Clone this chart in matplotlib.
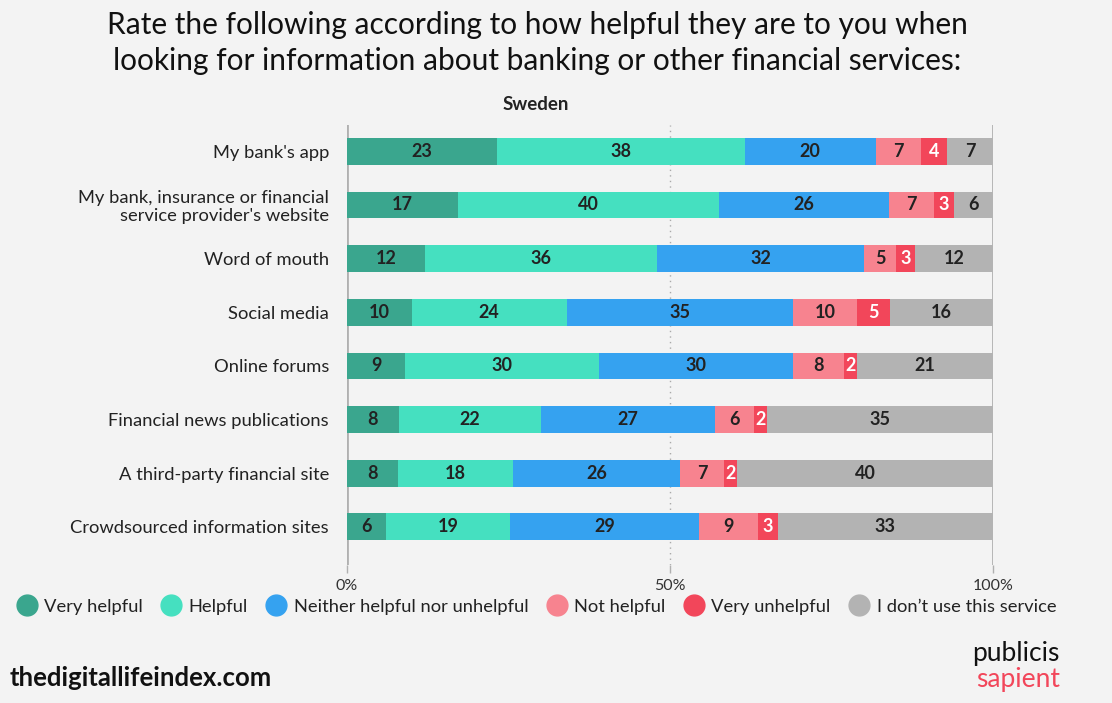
import matplotlib.pyplot as plt
import numpy as np

plt.rcParams['font.family'] = ['Lato', 'DejaVu Sans']

# data (Sweden)
sources = ["My bank's app",
           "My bank, insurance or financial\nservice provider's website",
           "Word of mouth",
           "Social media",
           "Online forums",
           "Financial news publications",
           "A third-party financial site",
           "Crowdsourced information sites"]
answers = ["Very helpful", "Helpful", "Neither helpful nor unhelpful",
           "Not helpful", "Very unhelpful", "I don\u2019t use this service"]
very_helpful = [23, 17, 12, 10, 9, 8, 8, 6]
helpful = [38, 40, 36, 24, 30, 22, 18, 19]
neither = [20, 26, 32, 35, 30, 27, 26, 29]
not_helpful = [7, 7, 5, 10, 8, 6, 7, 9]
very_unhelpful = [4, 3, 3, 5, 2, 2, 2, 3]
dont_use = [7, 6, 12, 16, 21, 35, 40, 33]

colors = ['#3aa68e', '#45e0c0', '#35a2f0', '#f7838f', '#f2465a', '#b3b3b3']
txtcol = ['#222222', '#222222', '#222222', '#222222', 'white', '#222222']
bg = '#f3f3f3'

vals = np.array([very_helpful, helpful, neither, not_helpful, very_unhelpful, dont_use], dtype=float)
pct = vals / vals.sum(axis=0) * 100  # bars fill to 100%

fig = plt.figure(figsize=(11.12, 7.03), dpi=100, facecolor=bg)
ax = fig.add_axes([347/1112, 1-565/703, (993-347)/1112, (565-125)/703])
ax.set_facecolor(bg)

y = np.arange(len(sources))
left = np.zeros(len(sources))
for i in range(len(answers)):
    ax.barh(y, pct[i], left=left, height=0.5, color=colors[i], label=answers[i], zorder=2)
    for j in range(len(sources)):
        ax.text(left[j] + pct[i][j]/2, y[j], str(int(vals[i][j])), ha='center', va='center',
                fontsize=13, fontweight='bold', color=txtcol[i], zorder=3)
    left += pct[i]

ax.set_xlim(0, 100)
ax.set_ylim(7.71, -0.49)
for s in ax.spines.values():
    s.set_visible(False)
ax.axvline(0, color='#b0b0b0', lw=2, zorder=1)
ax.axvline(100, color='#b0b0b0', lw=2, zorder=1)
ax.axvline(50, color='#aaaaaa', lw=1, ls=(0, (1, 3)), zorder=1)

ax.set_yticks(y)
ax.set_yticklabels(sources, fontsize=13.2, color='#222222', ha='right', linespacing=1.1)
ax.tick_params(axis='y', length=0, pad=13)
ax.set_xticks([0, 50, 100])
ax.set_xticklabels(['0%', '50%', '100%'], fontsize=11.5, color='#333333')
ax.tick_params(axis='x', length=6, color='#b0b0b0', width=1, pad=4)

fig.text(0.483, 0.965, "Rate the following according to how helpful they are to you when",
         ha='center', va='center', fontsize=21.5, color='#111111')
fig.text(0.483, 0.913, "looking for information about banking or other financial services:",
         ha='center', va='center', fontsize=21.5, color='#111111')
fig.text(0.482, 0.851, "Sweden", ha='center', va='center', fontsize=13.5, fontweight='bold', color='#222222')

leg = fig.legend(handles=[plt.Line2D([], [], marker='o', ls='', markersize=15, color=c) for c in colors],
                 labels=answers, loc='center', bbox_to_anchor=(0.482, 0.137), ncol=6, frameon=False,
                 fontsize=13.2, handletextpad=0.35, columnspacing=0.95, handlelength=1.2)
for t in leg.get_texts():
    t.set_color('#222222')

fig.text(0.009, 0.035, "thedigitallifeindex.com", ha='left', va='center', fontsize=18.5,
         fontweight='bold', color='#111111')
fig.text(0.953, 0.07, "publicis", ha='right', va='center', fontsize=19, color='#111111')
fig.text(0.953, 0.034, "sapient", ha='right', va='center', fontsize=19, color='#f2465a')

fig.savefig('out.png', dpi=100, facecolor=bg)
